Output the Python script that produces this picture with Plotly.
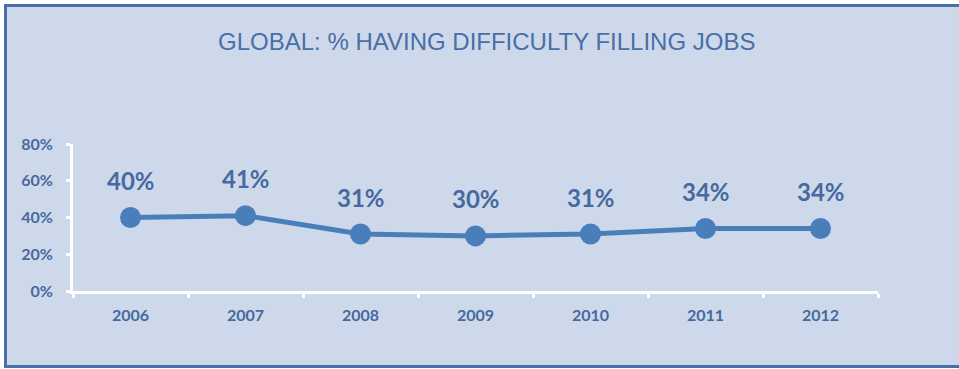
import plotly.graph_objects as go

years = ["2006", "2007", "2008", "2009", "2010", "2011", "2012"]
values = [0.40, 0.41, 0.31, 0.30, 0.31, 0.34, 0.34]
y_ticks = [0, 0.2, 0.4, 0.6, 0.8]
y_tick_labels = ["0%", "20%", "40%", "60%", "80%"]
title_text = "GLOBAL: % HAVING DIFFICULTY FILLING JOBS"

W, H = 959, 369
L, R, T, B = 73, 81, 144, 78
pw, ph = W - L - R, H - T - B

def px_x(p):
    return (p - L) / pw

def px_y(p):
    return (H - B - p) / ph

line_color = "#4a7ebb"
text_color = "#46699f"
bg = "#cdd9eb"

fig = go.Figure()
fig.add_trace(go.Scatter(
    x=years, y=values, mode="lines+markers",
    line=dict(color=line_color, width=5),
    marker=dict(color=line_color, size=21),
    hoverinfo="skip", cliponaxis=False,
))

for i, v in enumerate(values):
    fig.add_annotation(x=i, y=v, xref="x", yref="y", text=f"{round(v*100)}%", showarrow=False,
                       yshift=37, font=dict(family="Lato", size=24, color=text_color, weight="bold"))

fig.add_shape(type="rect", xref="paper", yref="paper",
              x0=px_x(5.5), x1=px_x(975), y0=px_y(366.5), y1=px_y(5.5),
              fillcolor=bg, line=dict(color="#4a6ea5", width=3), layer="below")

fig.add_annotation(xref="paper", yref="paper", x=px_x(487), y=px_y(42),
                   text=title_text, showarrow=False, xanchor="center", yanchor="middle",
                   font=dict(family="Liberation Sans", size=24, color="#4a6ea5"))

fig.update_layout(
    width=W, height=H,
    margin=dict(l=L, r=R, t=T, b=B),
    paper_bgcolor="white", plot_bgcolor="rgba(0,0,0,0)",
    showlegend=False,
    xaxis=dict(type="category", tickson="boundaries", showgrid=False, zeroline=False,
               showline=True, linecolor="white", linewidth=3,
               ticks="outside", ticklen=4, tickwidth=3, tickcolor="white",
               tickfont=dict(family="Lato", size=16, color=text_color, weight="bold"),
               ticklabelstandoff=8, range=[-0.5, 6.5]),
    yaxis=dict(range=[0, 0.8], tickvals=y_ticks, ticktext=y_tick_labels,
               showgrid=False, zeroline=False, showline=True, linecolor="white", linewidth=3,
               ticks="outside", ticklen=4, tickwidth=3, tickcolor="white",
               tickfont=dict(family="Lato", size=16, color=text_color, weight="bold"),
               ticklabelstandoff=10),
)

fig.write_html("out.html")
